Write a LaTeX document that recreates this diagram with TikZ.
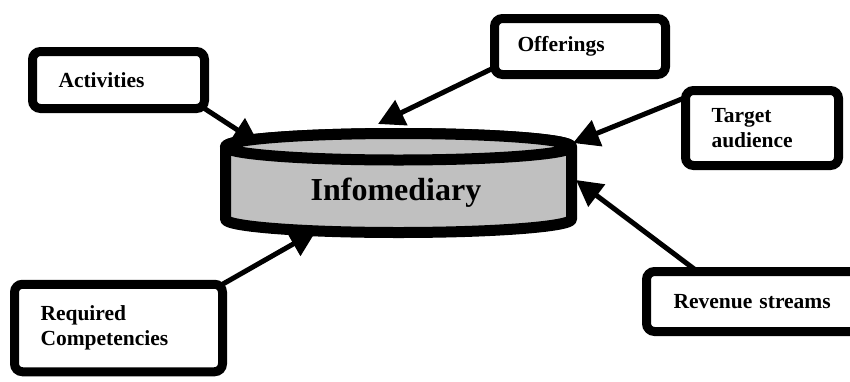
\documentclass[tikz,border=0pt]{standalone}
\usepackage{fontspec}
\setmainfont{Liberation Serif}
\usetikzlibrary{arrows.meta}
\definecolor{cylgray}{HTML}{C0C0C0}
\tikzset{
  box/.style={draw=black, fill=white, line width=9pt, rounded corners=8pt,
    outer sep=0pt, align=left, font=\fontsize{21.5}{24.5}\selectfont\bfseries,
    inner ysep=0pt},
  feed/.style={line width=5pt, -{Triangle[length=26pt,width=27pt]}},
  cyl/.style={draw=black, fill=cylgray, line width=11pt, line join=round}
}
\begin{document}
\begin{tikzpicture}[x=1pt,y=-1pt]
\useasboundingbox (0,0) rectangle (850,381);
% boxes
\node[box, minimum width=172pt, minimum height=57pt, inner xsep=26pt, text width=120pt] (act) at (118.5,80) {Activities};
\node[box, minimum width=171pt, minimum height=56pt, inner xsep=23pt, text width=125pt] (off) at (580,46.5) {Offerings};
\node[box, minimum width=153pt, minimum height=75pt, inner xsep=26pt, text width=101pt] (tgt) at (762,128) {Target\\audience};
\node[box, minimum width=234pt, minimum height=60pt, inner xsep=27pt, text width=180pt] (rev) at (763.5,301.5) {Revenue streams};
\node[box, minimum width=208pt, minimum height=87.5pt, inner xsep=26pt, text width=156pt] (req) at (118.5,328) {Required\\Competencies};
% arrow tips
\coordinate (tA) at (259,144);
\coordinate (tO) at (378,124);
\coordinate (tT) at (573,143);
\coordinate (tR) at (576,180);
\coordinate (tQ) at (316,231);
% arrows
\draw[feed] (act.south east) -- (tA);
\draw[feed] ([yshift=7pt]off.south west) -- (tO);
\draw[feed] ([yshift=-7pt]tgt.north west) -- (tT);
\draw[feed] ([xshift=51pt]rev.north west) -- (tR);
\draw[feed] (req.north east) -- (tQ);
% cylinder
\draw[cyl] (225.5,146.75) -- (225.5,219.25) arc[start angle=180, end angle=0, x radius=173, y radius=13.25]
  -- (571.5,146.75) arc[start angle=0, end angle=-180, x radius=173, y radius=13.25] -- cycle;
\draw[cyl] (398.5,146.75) ellipse[x radius=173, y radius=13.25];
\node[font=\fontsize{32}{36}\selectfont\bfseries, anchor=base] (info) at (396,200) {Infomediary};
\end{tikzpicture}
\end{document}
